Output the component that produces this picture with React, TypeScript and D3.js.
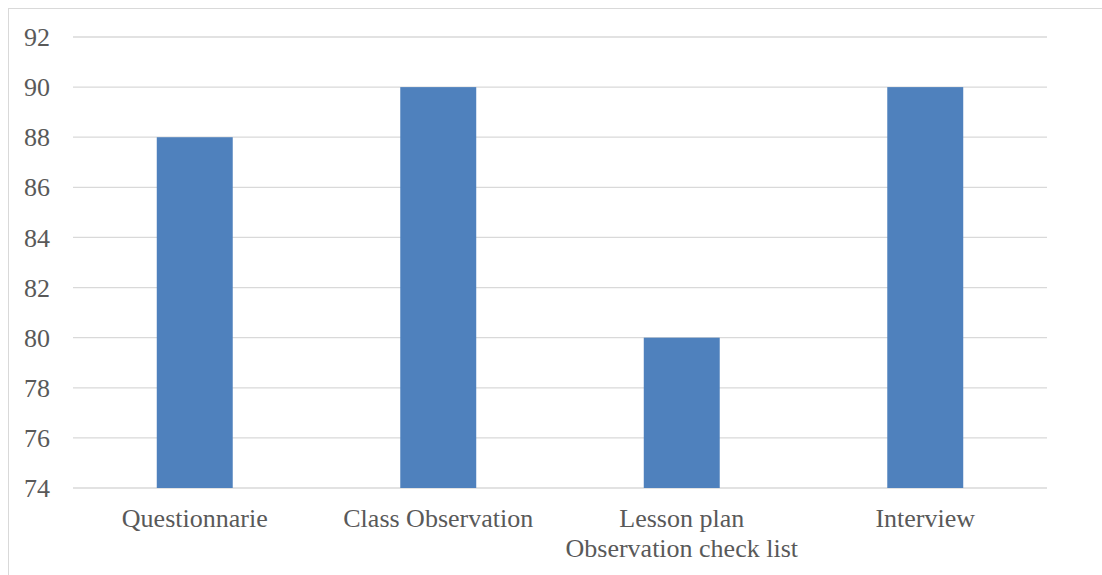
import React from "react";
import * as d3 from "d3";

const categories: string[][] = [
  ["Questionnarie"],
  ["Class Observation"],
  ["Lesson plan", "Observation check list"],
  ["Interview"],
];
const values: number[] = [88, 90, 80, 90];
const yTicks: number[] = [74, 76, 78, 80, 82, 84, 86, 88, 90, 92];

export default function App() {
  const W = 1102;
  const H = 575;
  const left = 73;
  const right = 1047;
  const top = 37;
  const bottom = 488;
  const keys = categories.map((_, i) => String(i));
  const x = d3.scaleBand<string>().domain(keys).range([left, right]).paddingInner(0.688).paddingOuter(0.344);
  const y = d3.scaleLinear().domain([74, 92]).range([bottom, top]);
  const font = "'Liberation Serif', 'Times New Roman', serif";
  return (
    <div style={{ position: "fixed", left: 0, top: 0 }}>
      <svg width={W} height={H} style={{ display: "block" }}>
        <rect x={8.5} y={8.5} width={1200} height={700} fill="#fff" stroke="#d9d9d9" strokeWidth={1} />
        {yTicks.map((t) => (
          <g key={t}>
            <line x1={left} x2={right} y1={y(t)} y2={y(t)} stroke="#d9d9d9" strokeWidth={1.3} />
            <text x={50} y={y(t)} dy="0.35em" textAnchor="end" fontFamily={font} fontSize={26} fill="#595959">
              {t}
            </text>
          </g>
        ))}
        {values.map((v, i) => (
          <rect key={i} x={x(String(i))} y={y(v)} width={x.bandwidth()} height={y(74) - y(v)} fill="#4F81BD" />
        ))}
        {categories.map((lines, i) => (
          <text key={i} textAnchor="middle" fontFamily={font} fontSize={26} fill="#595959">
            {lines.map((l, j) => (
              <tspan key={j} x={(x(String(i)) as number) + x.bandwidth() / 2} y={527 + j * 30}>
                {l}
              </tspan>
            ))}
          </text>
        ))}
      </svg>
    </div>
  );
}
